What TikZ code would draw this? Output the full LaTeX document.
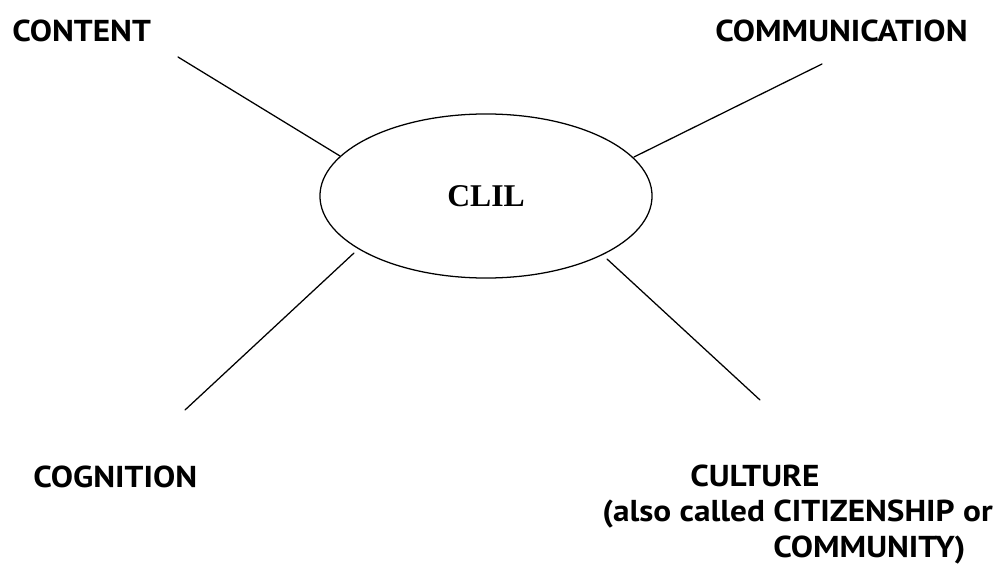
\documentclass[tikz,border=0pt]{standalone}
\usepackage{fontspec}
\setmainfont{Liberation Serif}
\newfontfamily\labelfont[FakeStretch=1.1]{PT Sans}
\usetikzlibrary{shapes.geometric}

\begin{document}
\begin{tikzpicture}[
	x=0.025cm, y=-0.025cm,
	line cap=round,
	line join=round,
	spoke/.style={line width=0.9pt},
	corner/.style={anchor=base west, inner sep=0pt,
		font=\labelfont\bfseries\fontsize{21.5}{25}\selectfont}
	]
	
	% page frame
	\useasboundingbox (0,0) rectangle (1002,565);
	
	% centre
	\node[ellipse, draw, line width=0.9pt, inner sep=0pt,
		minimum width=8.3cm, minimum height=4.1cm,
		font=\bfseries\fontsize{22.5}{26}\selectfont] (clil) at (486,196) {CLIL};
	
	% the four Cs
	\node[corner] (content) at (12,42) {CONTENT};
	\node[corner] (communication) at (715,42) {COMMUNICATION};
	\node[corner] (cognition) at (33,487) {COGNITION};
	\node[corner] (culture) at (690,486) {CULTURE};
	\node[corner] (culturea) at (602,521) {(also called CITIZENSHIP or};
	\node[corner] (cultureb) at (773,557) {COMMUNITY)};
	
	% spokes
	\coordinate (contentend) at (178,57);
	\coordinate (contentin) at (340,156);
	\coordinate (commend) at (822,64);
	\coordinate (commin) at (634,157);
	\coordinate (cogend) at (185,410);
	\coordinate (cogin) at (354,253);
	\coordinate (cultend) at (760,400);
	\coordinate (cultin) at (607,259);
	
	\draw[spoke] (contentend) -- (contentin);
	\draw[spoke] (commend) -- (commin);
	\draw[spoke] (cogend) -- (cogin);
	\draw[spoke] (cultend) -- (cultin);
	
\end{tikzpicture}
\end{document}
